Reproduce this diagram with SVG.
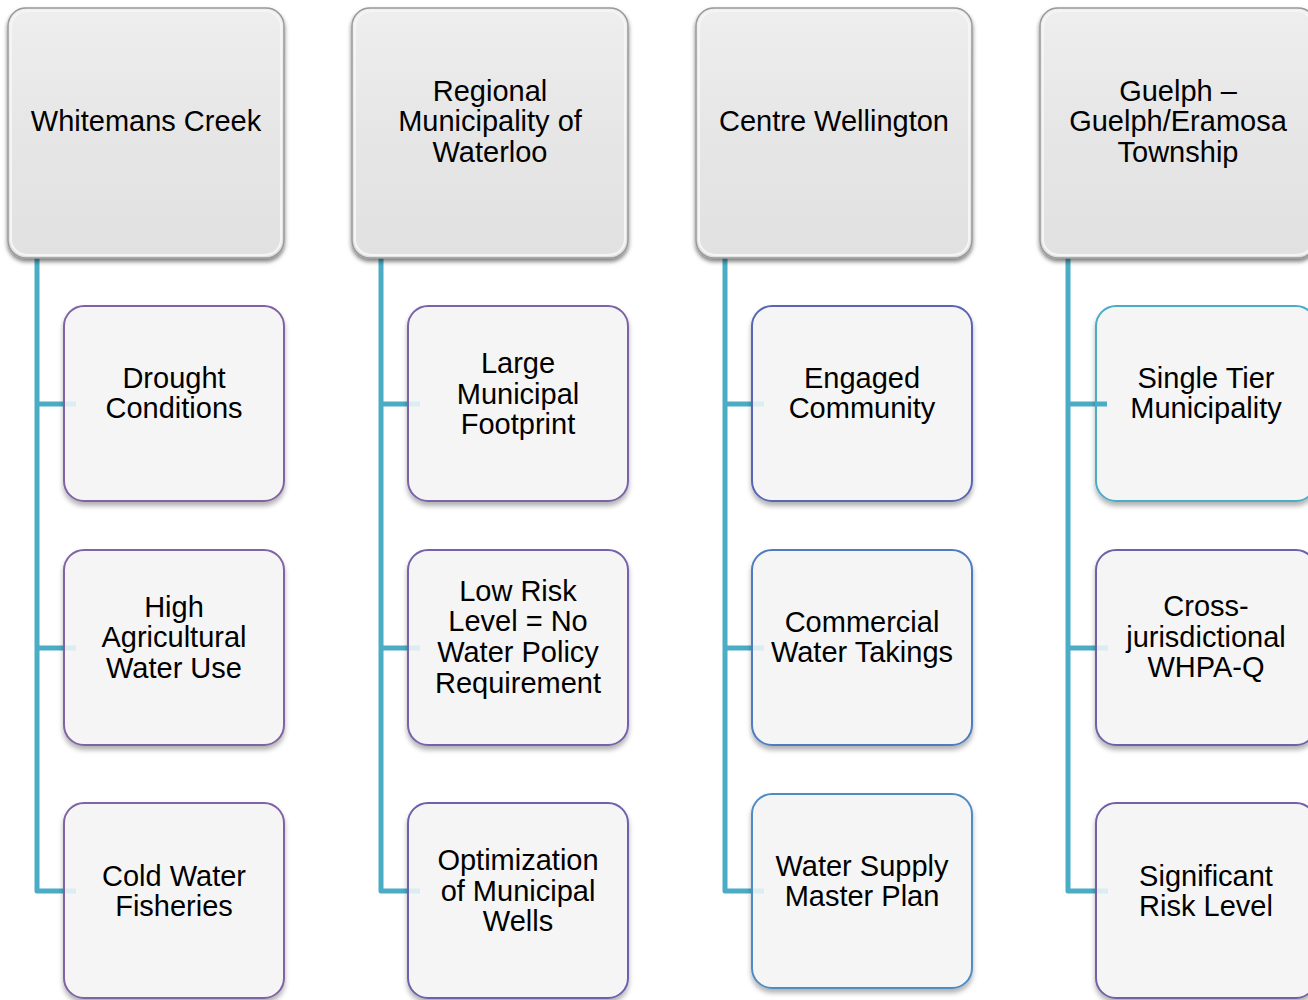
<svg xmlns="http://www.w3.org/2000/svg" width="1308" height="1000" viewBox="0 0 1308 1000">
<defs>
<linearGradient id="hg" x1="0" y1="0" x2="0" y2="1">
<stop offset="0" stop-color="#eeeeee"/>
<stop offset="0.5" stop-color="#e6e6e6"/>
<stop offset="1" stop-color="#e1e1e1"/>
</linearGradient>
<filter id="hs" x="-10%" y="-10%" width="120%" height="125%">
<feDropShadow dx="0" dy="3" stdDeviation="2" flood-color="#000" flood-opacity="0.5"/>
</filter>
<filter id="cs" x="-10%" y="-10%" width="120%" height="125%">
<feDropShadow dx="0" dy="4" stdDeviation="2.5" flood-color="#000" flood-opacity="0.3"/>
</filter>
</defs>
<style>
.hdr{fill:url(#hg);stroke:#999999;stroke-width:1.5;filter:url(#hs)}
.hin{fill:none;stroke:#f5f5f5;stroke-width:2}
.chd{fill:#f5f5f5;stroke-width:2;filter:url(#cs)}
.t{font-family:"Liberation Sans",Arial,sans-serif;font-size:29px;fill:#000;text-anchor:middle}
.ln{fill:none;stroke:#4BACC6;stroke-width:5;stroke-linejoin:round}
.fd{stroke:#d9eef3;stroke-width:5}
</style>
<rect width="1308" height="1000" fill="#fff"/>

<g id="connectors">
<path class="ln" d="M37 258 V891 H64 M37 404 H64 M37 648 H64"/>
<path class="ln" d="M381 258 V891 H408 M381 404 H408 M381 648 H408"/>
<path class="ln" d="M725 258 V891 H752 M725 404 H752 M725 648 H752"/>
<path class="ln" d="M1068 258 V891 H1096 M1068 404 H1096 M1068 648 H1096"/>
</g>

<g id="h1"><rect class="hdr" x="8" y="8" width="276" height="250" rx="18"/><rect class="hin" x="11" y="11" width="270" height="244" rx="16"/><text class="t" x="146" y="131">Whitemans Creek</text></g>
<g id="h2"><rect class="hdr" x="352" y="8" width="276" height="250" rx="18"/><rect class="hin" x="355" y="11" width="270" height="244" rx="16"/><text class="t" x="490" y="101">Regional</text><text class="t" x="490" y="131">Municipality of</text><text class="t" x="490" y="162">Waterloo</text></g>
<g id="h3"><rect class="hdr" x="696" y="8" width="276" height="250" rx="18"/><rect class="hin" x="699" y="11" width="270" height="244" rx="16"/><text class="t" x="834" y="131">Centre Wellington</text></g>
<g id="h4"><rect class="hdr" x="1040" y="8" width="276" height="250" rx="18"/><rect class="hin" x="1043" y="11" width="270" height="244" rx="16"/><text class="t" x="1178" y="101">Guelph –</text><text class="t" x="1178" y="131">Guelph/Eramosa</text><text class="t" x="1178" y="162">Township</text></g>

<g id="c11"><rect class="chd" stroke="#8064A2" x="64" y="306" width="220" height="195" rx="20"/><text class="t" x="174" y="388">Drought</text><text class="t" x="174" y="418">Conditions</text></g>
<g id="c12"><rect class="chd" stroke="#8064A2" x="64" y="550" width="220" height="195" rx="20"/><text class="t" x="174" y="617">High</text><text class="t" x="174" y="647">Agricultural</text><text class="t" x="174" y="678">Water Use</text></g>
<g id="c13"><rect class="chd" stroke="#8064A2" x="64" y="803" width="220" height="195" rx="20"/><text class="t" x="174" y="886">Cold Water</text><text class="t" x="174" y="916">Fisheries</text></g>

<g id="c21"><rect class="chd" stroke="#7c64a8" x="408" y="306" width="220" height="195" rx="20"/><text class="t" x="518" y="373">Large</text><text class="t" x="518" y="404">Municipal</text><text class="t" x="518" y="434">Footprint</text></g>
<g id="c22"><rect class="chd" stroke="#7562aa" x="408" y="550" width="220" height="195" rx="20"/><text class="t" x="518" y="601">Low Risk</text><text class="t" x="518" y="631">Level = No</text><text class="t" x="518" y="662">Water Policy</text><text class="t" x="518" y="693">Requirement</text></g>
<g id="c23"><rect class="chd" stroke="#7060ac" x="408" y="803" width="220" height="195" rx="20"/><text class="t" x="518" y="870">Optimization</text><text class="t" x="518" y="901">of Municipal</text><text class="t" x="518" y="931">Wells</text></g>

<g id="c31"><rect class="chd" stroke="#5a66b4" x="752" y="306" width="220" height="195" rx="20"/><text class="t" x="862" y="388">Engaged</text><text class="t" x="862" y="418">Community</text></g>
<g id="c32"><rect class="chd" stroke="#4f7cc0" x="752" y="550" width="220" height="195" rx="20"/><text class="t" x="862" y="632">Commercial</text><text class="t" x="862" y="662">Water Takings</text></g>
<g id="c33"><rect class="chd" stroke="#4f8cc4" x="752" y="794" width="220" height="194" rx="20"/><text class="t" x="862" y="876">Water Supply</text><text class="t" x="862" y="906">Master Plan</text></g>

<g id="c41"><rect class="chd" stroke="#4BACC6" x="1096" y="306" width="220" height="195" rx="20"/><text class="t" x="1206" y="388">Single Tier</text><text class="t" x="1206" y="418">Municipality</text></g>
<g id="c42"><rect class="chd" stroke="#7060a8" x="1096" y="550" width="220" height="195" rx="20"/><text class="t" x="1206" y="616">Cross-</text><text class="t" x="1206" y="647">jurisdictional</text><text class="t" x="1206" y="677">WHPA-Q</text></g>
<g id="c43"><rect class="chd" stroke="#7560a8" x="1096" y="803" width="220" height="195" rx="20"/><text class="t" x="1206" y="886">Significant</text><text class="t" x="1206" y="916">Risk Level</text></g>

<g id="connector-ends">
<path class="fd" d="M65 404 H76 M65 648 H76 M65 891 H76"/>
<path class="fd" d="M409 404 H420 M409 648 H420 M409 891 H420"/>
<path class="fd" d="M753 404 H764 M753 648 H764 M753 891 H764"/>
<path class="ln" d="M1096 404 H1107"/>
<path class="fd" d="M1097 648 H1108 M1097 891 H1108"/>
</g>
</svg>
